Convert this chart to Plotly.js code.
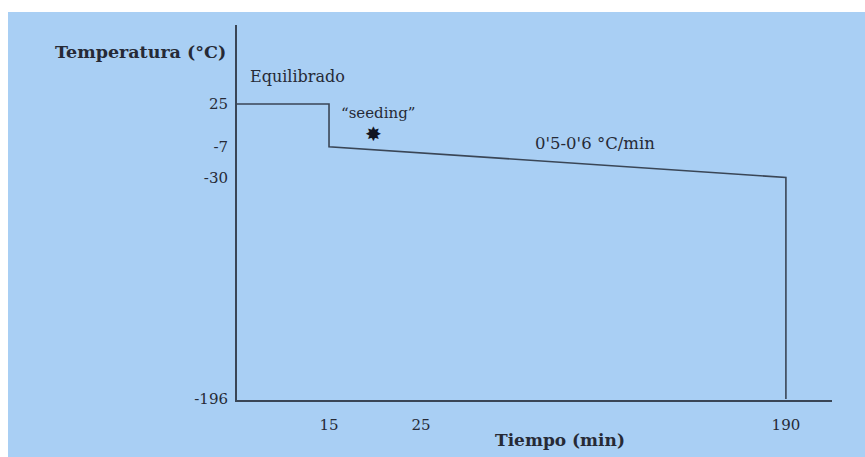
<!DOCTYPE html>
<html>
<head>
<meta charset="utf-8">
<script src="https://cdn.plot.ly/plotly-3.0.1.min.js"></script>
<style>
html,body{margin:0;padding:0;background:#ffffff;width:865px;height:457px;overflow:hidden;}
#chart{position:absolute;left:8px;top:12px;width:857px;height:445px;}
</style>
</head>
<body>
<div id="chart"></div>
<script>
// Schematic freezing protocol: time (min) vs temperature (°C)
const timeMin = [1, 15, 15, 190, 190];
const tempC = [25, 25, -7, -30, -196];
const xTickVals = [15, 25, 190];
const xTickText = ["15", "25", "190"];
const yTickVals = [25, -7, -30, -196];
const yTickText = ["25", "-7", "-30", "-196"];

const ink = "#3a4656";
const txt = "#262a36";
const serif = "DejaVu Serif, Liberation Serif, serif";

const trace = {
  x: timeMin, y: tempC, type: "scatter", mode: "lines",
  line: {color: ink, width: 1.6},
  hoverinfo: "skip", showlegend: false
};

const layout = {
  width: 857, height: 445,
  margin: {l: 229, r: 33, t: 13, b: 57},
  paper_bgcolor: "#a9cff4",
  plot_bgcolor: "#a9cff4",
  font: {family: serif, color: txt, size: 14},
  xaxis: {
    type: "log", range: [0.954, 2.390],
    tickmode: "array", tickvals: xTickVals, ticktext: xTickText,
    showgrid: false, zeroline: false, ticks: "",
    showline: true, linecolor: ink, linewidth: 2,
    ticklabelstandoff: 10,
    tickfont: {family: serif, size: 15, color: txt}
  },
  yaxis: {
    range: [-196.7, 84.2],
    tickmode: "array", tickvals: yTickVals, ticktext: yTickText,
    showgrid: false, zeroline: false, ticks: "",
    showline: true, linecolor: ink, linewidth: 2,
    ticklabelstandoff: 4,
    tickfont: {family: serif, size: 15, color: txt}
  },
  annotations: [
    {text: "<b>Temperatura (°C)</b>", xref: "paper", yref: "paper", x: -0.015, y: 0.928,
     xanchor: "right", yanchor: "middle", showarrow: false, font: {family: serif, size: 17.5, color: txt}},
    {text: "<b>Tiempo (min)</b>", xref: "paper", yref: "paper", x: 0.543, y: -0.107,
     xanchor: "center", yanchor: "middle", showarrow: false, font: {family: serif, size: 17, color: txt}},
    {text: "Equilibrado", xref: "paper", yref: "paper", x: 0.0185, y: 0.864,
     xanchor: "left", yanchor: "middle", showarrow: false, font: {family: serif, size: 16, color: txt}},
    {text: "“seeding”", xref: "paper", yref: "paper", x: 0.237, y: 0.765,
     xanchor: "center", yanchor: "middle", showarrow: false, font: {family: serif, size: 15, color: txt}},
    {text: "✸", xref: "paper", yref: "paper", x: 0.2286, y: 0.709,
     xanchor: "center", yanchor: "middle", showarrow: false, font: {family: "DejaVu Sans", size: 20, color: "#111522"}},
    {text: "0'5-0'6 °C/min", xref: "paper", yref: "paper", x: 0.4975, y: 0.683,
     xanchor: "left", yanchor: "middle", showarrow: false, font: {family: serif, size: 16.5, color: txt}}
  ]
};

Plotly.newPlot("chart", [trace], layout, {displayModeBar: false, staticPlot: true});
</script>
</body>
</html>
